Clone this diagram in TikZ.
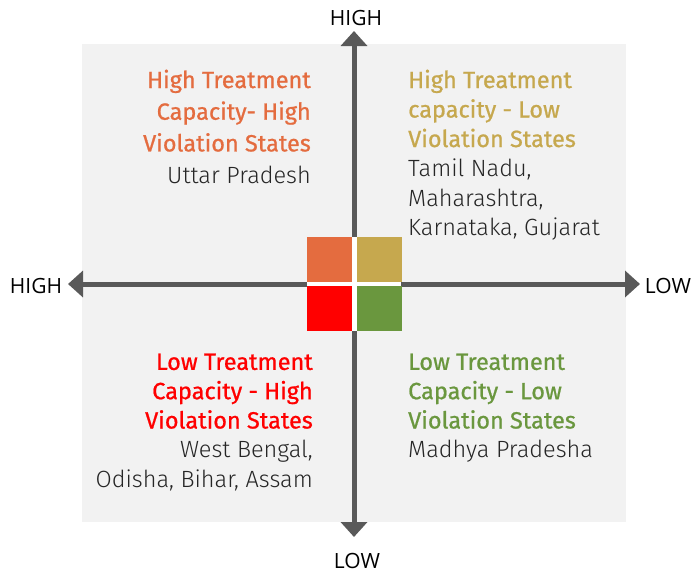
\documentclass[tikz,border=0pt]{standalone}
\usepackage{fontspec}
\setmainfont{Fira Sans Light}
\newfontfamily\headfont[FakeBold=0.8]{Fira Sans}
\newfontfamily\axisfont{Open Sans}
\usetikzlibrary{arrows.meta}
\definecolor{axisgray}{HTML}{595959}
\definecolor{panel}{HTML}{F2F2F2}
\definecolor{qorange}{HTML}{E46C3F}
\definecolor{qgold}{HTML}{C6A84E}
\definecolor{qred}{HTML}{FF0000}
\definecolor{qgreen}{HTML}{6A973E}
\definecolor{bodytext}{HTML}{262626}
\tikzset{
  axis/.style={draw=axisgray, line width=5pt, -{Triangle[length=15pt,width=26pt]}},
  axislabel/.style={font=\axisfont\fontsize{21}{24}\selectfont, text=black, inner sep=0pt},
  square/.style={minimum size=45pt, inner sep=0pt, draw=none},
  quad/.style={inner sep=0pt, text=bodytext},
}
\newcommand{\hd}[2]{\textcolor{#1}{\headfont #2}}
\begin{document}
\begin{tikzpicture}[x=1pt,y=-1pt]
\useasboundingbox (0,0) rectangle (692,573);
\fill[panel] (82,44) rectangle (626,522);
\coordinate (L) at (68,284);
\coordinate (R) at (640,284);
\coordinate (T) at (354,31);
\coordinate (B) at (354,537);
\coordinate (O) at (354,284);
\draw[axis] (O) -- (L);
\draw[axis] (O) -- (R);
\draw[axis] (O) -- (T);
\draw[axis] (O) -- (B);
\fill[white] (307,237) rectangle (401,331);
\node[square, fill=qorange] (sq1) at (329.5,259.5) {};
\node[square, fill=qgold] (sq2) at (379,259.5) {};
\node[square, fill=qred] (sq3) at (329.5,308.5) {};
\node[square, fill=qgreen] (sq4) at (379,308.5) {};
\node[axislabel] (lblT) at (356,18) {HIGH};
\node[axislabel] (lblB) at (357,561) {LOW};
\node[axislabel] (lblL) at (36,286) {HIGH};
\node[axislabel] (lblR) at (668,286) {LOW};
\node[quad, align=right, anchor=north east, font=\fontsize{23.5}{31.7}\selectfont] (q1) at (311,69.5)
  {\hd{qorange}{High Treatment}\\\hd{qorange}{Capacity- High}\\\hd{qorange}{Violation States}\\Uttar Pradesh};
\node[quad, align=left, anchor=north west, font=\fontsize{23.5}{29.5}\selectfont] (q2) at (408,69.5)
  {\hd{qgold}{High Treatment}\\\hd{qgold}{capacity - Low}\\\hd{qgold}{Violation States}\\Tamil Nadu,\\Maharashtra,\\Karnataka, Gujarat};
\node[quad, align=right, anchor=north east, font=\fontsize{23.5}{29.3}\selectfont] (q3) at (313,353.5)
  {\hd{qred}{Low Treatment}\\\hd{qred}{Capacity - High}\\\hd{qred}{Violation States}\\West Bengal,\\Odisha, Bihar, Assam};
\node[quad, align=left, anchor=north west, font=\fontsize{23.5}{29.3}\selectfont] (q4) at (408,353.5)
  {\hd{qgreen}{Low Treatment}\\\hd{qgreen}{Capacity - Low}\\\hd{qgreen}{Violation States}\\Madhya Pradesha};
\end{tikzpicture}
\end{document}
